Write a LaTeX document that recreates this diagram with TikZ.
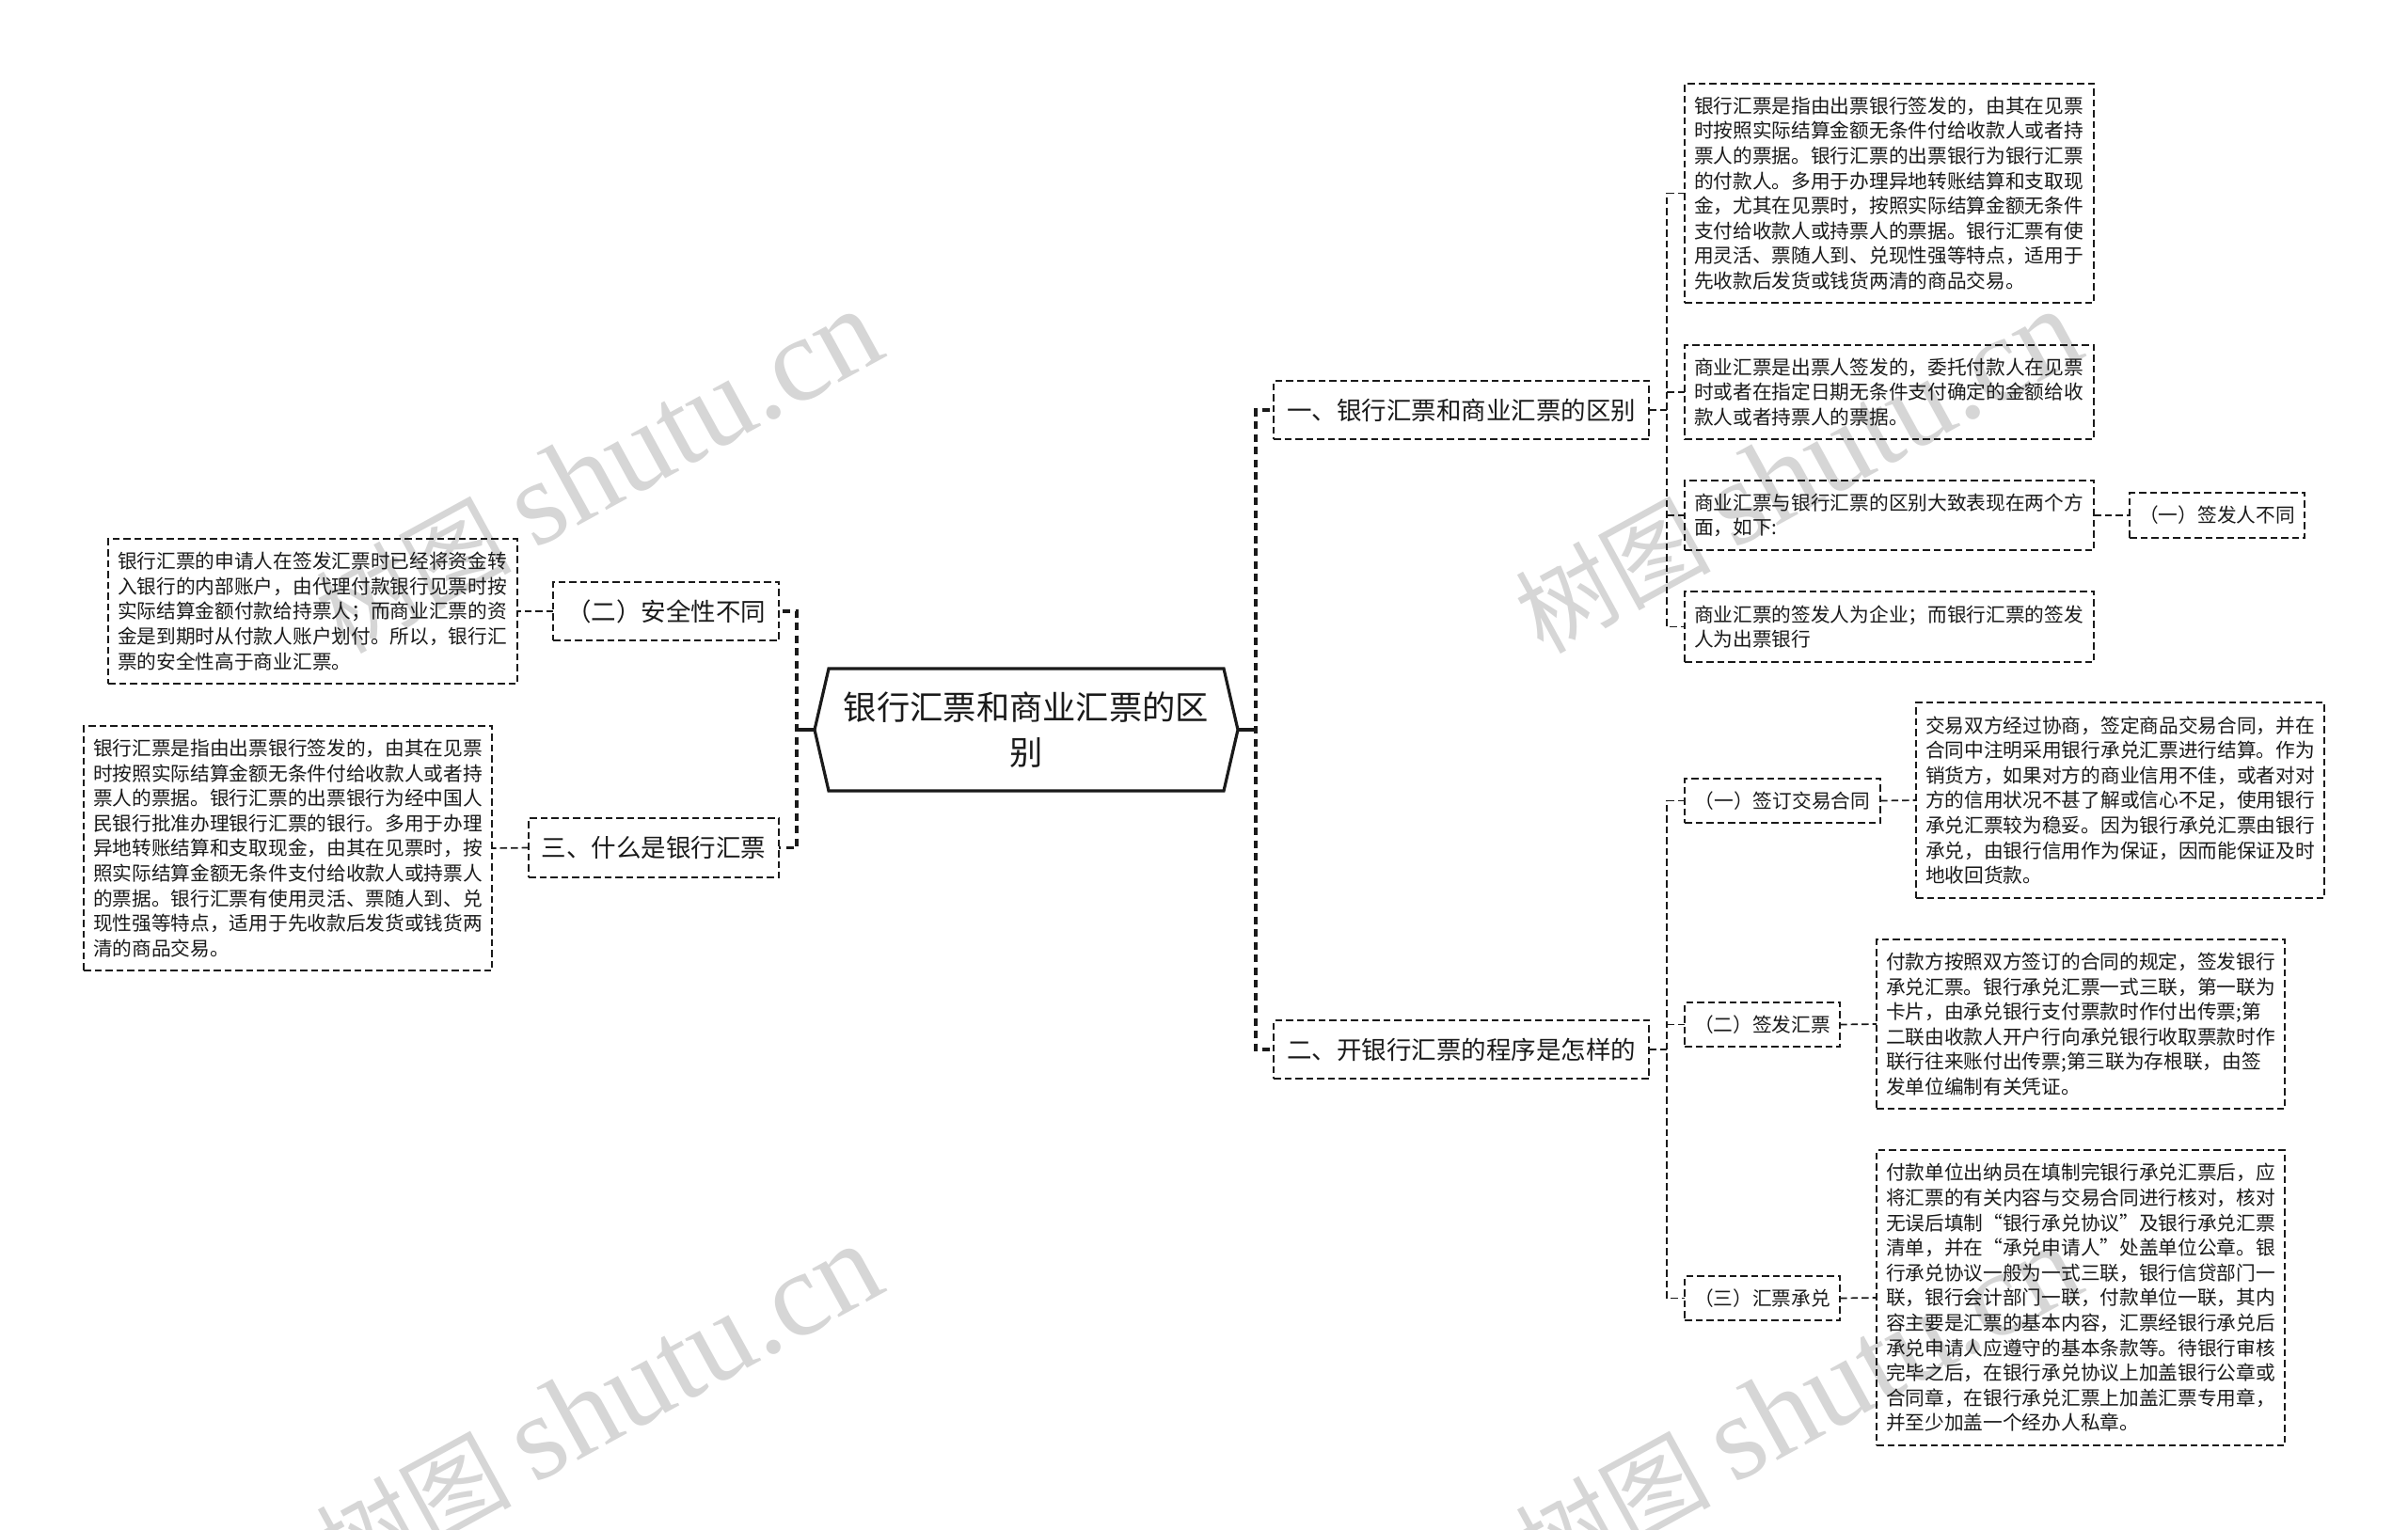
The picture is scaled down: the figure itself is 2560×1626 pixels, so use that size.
\documentclass[tikz,border=0pt]{standalone}
\usepackage{fontspec}
\setmainfont{Noto Sans CJK SC}
\newfontfamily\wmlatin{Liberation Serif}
\usetikzlibrary{calc}
\definecolor{ink}{HTML}{1A1A1A}
\definecolor{wm}{HTML}{D6D6D6}
\tikzset{
  bigfont/.style={font=\fontsize{35.3}{48}\selectfont},
  midfont/.style={font=\fontsize{26.5}{34}\selectfont},
  smallfont/.style={font=\fontsize{20.7}{26.6}\selectfont},
  dashthin/.style={line width=1.7pt,dash pattern=on 7.5pt off 4pt,draw=ink},
  dashthick/.style={line width=3.2pt,dash pattern=on 8pt off 5.5pt,dash phase=9.5pt,draw=ink},
  rootbox/.style={inner sep=0pt,outer sep=0pt,text=ink,align=center,bigfont},
  midbox/.style={draw=ink,dashthin,inner sep=0pt,outer sep=0pt,text=ink,align=center,midfont},
  subbox/.style={draw=ink,dashthin,inner sep=0pt,outer sep=0pt,text=ink,align=center,smallfont},
  textbox/.style={draw=ink,dashthin,inner sep=0pt,outer sep=0pt,text=ink,align=left,smallfont},
  rootlink/.style={draw=ink,line width=3.2pt},
  mainlink/.style={dashthick},
  sublink/.style={dashthin},
  watermark/.style={text=wm,inner sep=0pt,rotate=28.7,anchor=base east,font=\fontsize{104}{104}\selectfont},
}
\newcommand{\bx}[7]{%
  \pgfmathsetmacro\bxcx{(#2+#4)/2}%
  \pgfmathsetmacro\bxcy{(#3+#5)/2}%
  \pgfmathsetmacro\bxw{#4-#2}%
  \pgfmathsetmacro\bxh{#5-#3}%
  \node[#6,minimum width=\bxw pt,minimum height=\bxh pt] (#1) at (\bxcx,\bxcy) {#7};}
\newcommand{\tb}[6]{%
  \pgfmathsetmacro\bxcx{(#2+#4)/2}%
  \pgfmathsetmacro\bxcy{(#3+#5)/2}%
  \pgfmathsetmacro\bxw{#4-#2}%
  \pgfmathsetmacro\bxh{#5-#3}%
  \pgfmathsetmacro\bxt{#4-#2-20}%
  \node[textbox,minimum width=\bxw pt,minimum height=\bxh pt,text width=\bxt pt] (#1) at (\bxcx,\bxcy) {#6};}
\newcommand{\wmk}[3]{\node[watermark] (#1) at (#2,#3) {树图\hspace{24pt}{\wmlatin\fontsize{128}{128}\selectfont shutu.cn}};}
\begin{document}
\begin{tikzpicture}[x=1pt,y=-1pt]
\useasboundingbox (0,0) rectangle (2560,1626);
\clip (0,0) rectangle (2560,1626);
\fill[white] (0,0) rectangle (2560,1626);
% watermarks
\wmk{wa}{946}{378}
\wmk{wb}{946}{1372}
\wmk{wc}{2221}{378}
\wmk{wd}{2221}{1372}
% root
\path[draw=ink,line width=3.2pt,line join=miter] (866,776) -- (881,711) -- (1301,711) -- (1316,776) -- (1301,841) -- (881,841) -- cycle;
\node[rootbox,minimum width=450pt,minimum height=130pt] (root) at (1091,776) {银行汇票和商业汇票的区\\别};
\coordinate (rootW) at (866,776);
\coordinate (rootE) at (1316,776);
% left
\bx{safe}{588}{619}{828}{681}{midbox}{（二）安全性不同}
\bx{what}{562}{870}{828}{933}{midbox}{三、什么是银行汇票}
\tb{ltop}{115}{573}{550}{727}{银行汇票的申请人在签发汇票时已经将资金转\\入银行的内部账户，由代理付款银行见票时按\\实际结算金额付款给持票人；而商业汇票的资\\金是到期时从付款人账户划付。所以，银行汇\\票的安全性高于商业汇票。}
\tb{lbot}{89}{772}{523}{1032}{银行汇票是指由出票银行签发的，由其在见票\\时按照实际结算金额无条件付给收款人或者持\\票人的票据。银行汇票的出票银行为经中国人\\民银行批准办理银行汇票的银行。多用于办理\\异地转账结算和支取现金，由其在见票时，按\\照实际结算金额无条件支付给收款人或持票人\\的票据。银行汇票有使用灵活、票随人到、兑\\现性强等特点，适用于先收款后发货或钱货两\\清的商品交易。}
% right
\bx{diff}{1354}{405}{1753}{467}{midbox}{一、银行汇票和商业汇票的区别}
\bx{proc}{1354}{1085}{1753}{1147}{midbox}{二、开银行汇票的程序是怎样的}
\tb{ra}{1791}{89}{2226}{322}{银行汇票是指由出票银行签发的，由其在见票\\时按照实际结算金额无条件付给收款人或者持\\票人的票据。银行汇票的出票银行为银行汇票\\的付款人。多用于办理异地转账结算和支取现\\金，尤其在见票时，按照实际结算金额无条件\\支付给收款人或持票人的票据。银行汇票有使\\用灵活、票随人到、兑现性强等特点，适用于\\先收款后发货或钱货两清的商品交易。}
\tb{rb}{1791}{367}{2226}{467}{商业汇票是出票人签发的，委托付款人在见票\\时或者在指定日期无条件支付确定的金额给收\\款人或者持票人的票据。}
\tb{rc}{1791}{511}{2226}{585}{商业汇票与银行汇票的区别大致表现在两个方\\面，如下:}
\tb{rd}{1791}{629}{2226}{704}{商业汇票的签发人为企业；而银行汇票的签发\\人为出票银行}
\bx{sign}{2264}{524}{2450}{572}{subbox}{（一）签发人不同}
\bx{pa}{1791}{828}{1999}{875}{subbox}{（一）签订交易合同}
\bx{pb}{1791}{1066}{1956}{1113}{subbox}{（二）签发汇票}
\bx{pc}{1791}{1357}{1956}{1404}{subbox}{（三）汇票承兑}
\tb{ta}{2037}{747}{2471}{955}{交易双方经过协商，签定商品交易合同，并在\\合同中注明采用银行承兑汇票进行结算。作为\\销货方，如果对方的商业信用不佳，或者对对\\方的信用状况不甚了解或信心不足，使用银行\\承兑汇票较为稳妥。因为银行承兑汇票由银行\\承兑，由银行信用作为保证，因而能保证及时\\地收回货款。}
\tb{tb}{1995}{999}{2429}{1179}{付款方按照双方签订的合同的规定，签发银行\\承兑汇票。银行承兑汇票一式三联，第一联为\\卡片，由承兑银行支付票款时作付出传票;第\\二联由收款人开户行向承兑银行收取票款时作\\联行往来账付出传票;第三联为存根联，由签\\发单位编制有关凭证。}
\tb{tc}{1995}{1223}{2429}{1537}{付款单位出纳员在填制完银行承兑汇票后，应\\将汇票的有关内容与交易合同进行核对，核对\\无误后填制“银行承兑协议”及银行承兑汇票\\清单，并在“承兑申请人”处盖单位公章。银\\行承兑协议一般为一式三联，银行信贷部门一\\联，银行会计部门一联，付款单位一联，其内\\容主要是汇票的基本内容，汇票经银行承兑后\\承兑申请人应遵守的基本条款等。待银行审核\\完毕之后，在银行承兑协议上加盖银行公章或\\合同章，在银行承兑汇票上加盖汇票专用章，\\并至少加盖一个经办人私章。}
% connectors
\draw[rootlink] (rootW) -- (847,776);
\draw[rootlink] (rootE) -- (1335,776);
\draw[mainlink] (safe.east) -- (847,650) |- (what.east);
\draw[mainlink] (diff.west) -- (1335,436) |- (proc.west);
\draw[sublink] (safe.west) -- (ltop.east);
\draw[sublink] (what.west) -- (lbot.east);
\draw[sublink] (ra.west) -- (1772,205.5) |- (rd.west);
\draw[sublink] (rb.west) -- (1772,417);
\draw[sublink] (rc.west) -- (1772,548);
\draw[sublink] (diff.east) -- (1772,436);
\draw[sublink] (rc.east) -- (sign.west);
\draw[sublink] (pa.west) -- (1772,851.5) |- (pc.west);
\draw[sublink] (pb.west) -- (1772,1089.5);
\draw[sublink] (proc.east) -- (1772,1116);
\draw[sublink] (pa.east) -- (ta.west);
\draw[sublink] (pb.east) -- (tb.west);
\draw[sublink] (pc.east) -- (tc.west);
\end{tikzpicture}
\end{document}
